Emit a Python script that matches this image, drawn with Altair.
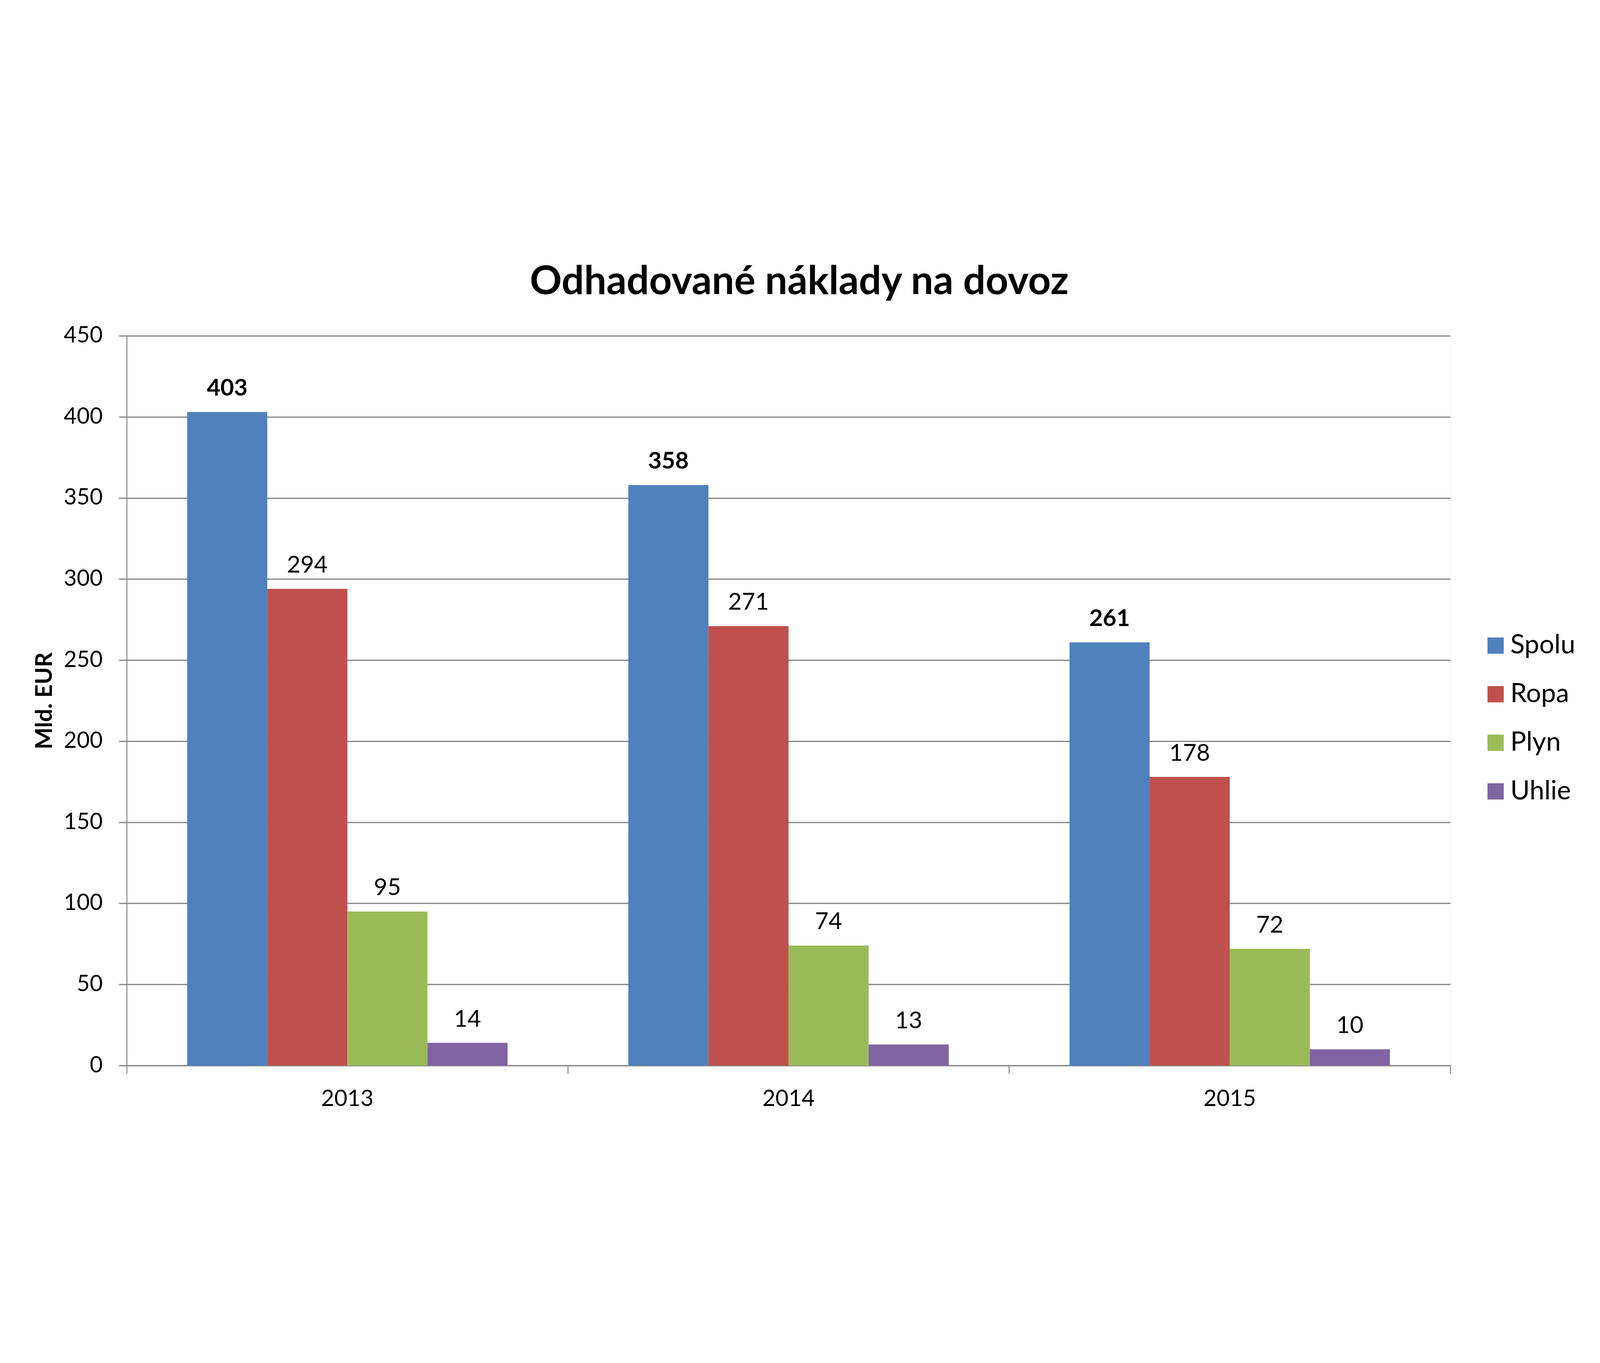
import altair as alt
import pandas as pd

years = ["2013", "2014", "2015"]
categories = ["Spolu", "Ropa", "Plyn", "Uhlie"]
spolu = [403, 358, 261]
ropa = [294, 271, 178]
plyn = [95, 74, 72]
uhlie = [14, 13, 10]
colors = ["#4F81BD", "#C0504D", "#9BBB59", "#8064A2"]
y_ticks = [0, 50, 100, 150, 200, 250, 300, 350, 400, 450]

series = {"Spolu": spolu, "Ropa": ropa, "Plyn": plyn, "Uhlie": uhlie}
rows = []
for cat in categories:
    for yr, v in zip(years, series[cat]):
        rows.append({"Rok": yr, "Kategoria": cat, "Hodnota": v})
df = pd.DataFrame(rows)

FONT = "Lato"
GRAY = "#888888"

x_enc = alt.X(
    "Rok:N",
    sort=years,
    scale=alt.Scale(paddingInner=0, paddingOuter=0),
    axis=alt.Axis(
        title=None,
        labelAngle=0,
        labelFont=FONT,
        labelFontSize=89,
        labelColor="black",
        labelPadding=57,
        labelLimit=2000,
        tickSize=32,
        tickWidth=4,
        tickColor=GRAY,
        domainColor=GRAY,
        domainWidth=5,
        bandPosition=1,
        tickExtra=True,
        grid=False,
    ),
)
xoff_enc = alt.XOffset(
    "Kategoria:N",
    sort=categories,
    scale=alt.Scale(paddingInner=0, paddingOuter=0.754),
)
y_enc = alt.Y(
    "Hodnota:Q",
    scale=alt.Scale(domain=[0, 450], nice=False),
    axis=alt.Axis(
        title="Mld. EUR",
        titleFont=FONT,
        titleFontSize=91,
        titleFontWeight="bold",
        titleColor="black",
        titleAngle=270,
        titleX=-294,
        titleAlign="center",
        titleBaseline="alphabetic",
        values=y_ticks,
        labelFont=FONT,
        labelFontSize=88,
        labelColor="black",
        labelPadding=64,
        labelLimit=2000,
        tickSize=31,
        tickWidth=5,
        tickColor=GRAY,
        domainColor=GRAY,
        domainWidth=4,
        grid=True,
        gridColor=GRAY,
        gridWidth=5,
    ),
)

base = alt.Chart(df)

bars = base.mark_bar().encode(
    x=x_enc,
    xOffset=xoff_enc,
    y=y_enc,
    color=alt.Color(
        "Kategoria:N",
        sort=categories,
        scale=alt.Scale(domain=categories, range=colors),
        legend=alt.Legend(
            title=None,
            orient="none",
            legendX=5329,
            legendY=1166,
            symbolType="square",
            symbolSize=4096,
            symbolStrokeWidth=0,
            labelFont=FONT,
            labelFontSize=104,
            labelColor="black",
            labelOffset=6,
            rowPadding=87,
            labelLimit=2000,
        ),
    ),
)

labels_bold = base.transform_filter(alt.datum.Kategoria == "Spolu").mark_text(
    font=FONT, fontSize=92, fontWeight="bold", color="black", baseline="alphabetic", dy=-64
).encode(x=alt.X("Rok:N", sort=years), xOffset=alt.XOffset("Kategoria:N", sort=categories), y="Hodnota:Q", text="Hodnota:Q")

labels_reg = base.transform_filter(alt.datum.Kategoria != "Spolu").mark_text(
    font=FONT, fontSize=92, fontWeight="normal", color="black", baseline="alphabetic", dy=-64
).encode(x=alt.X("Rok:N", sort=years), xOffset=alt.XOffset("Kategoria:N", sort=categories), y="Hodnota:Q", text="Hodnota:Q")

chart = alt.layer(bars, labels_bold, labels_reg).properties(
    width=6265,
    height=3474,
    padding={"left": 119, "top": 89, "right": 574, "bottom": 50},
    autosize=alt.AutoSizeParams(type="fit", contains="padding"),
    title=alt.TitleParams(
        "Odhadované náklady na dovoz",
        font=FONT,
        fontSize=156,
        fontWeight="bold",
        color="black",
        anchor="middle",
        baseline="alphabetic",
        dx=42,
        offset=-36,
    ),
).configure_view(stroke=None).configure(background="white")

chart.save("out.html", embed_options={"renderer": "svg", "actions": False})
